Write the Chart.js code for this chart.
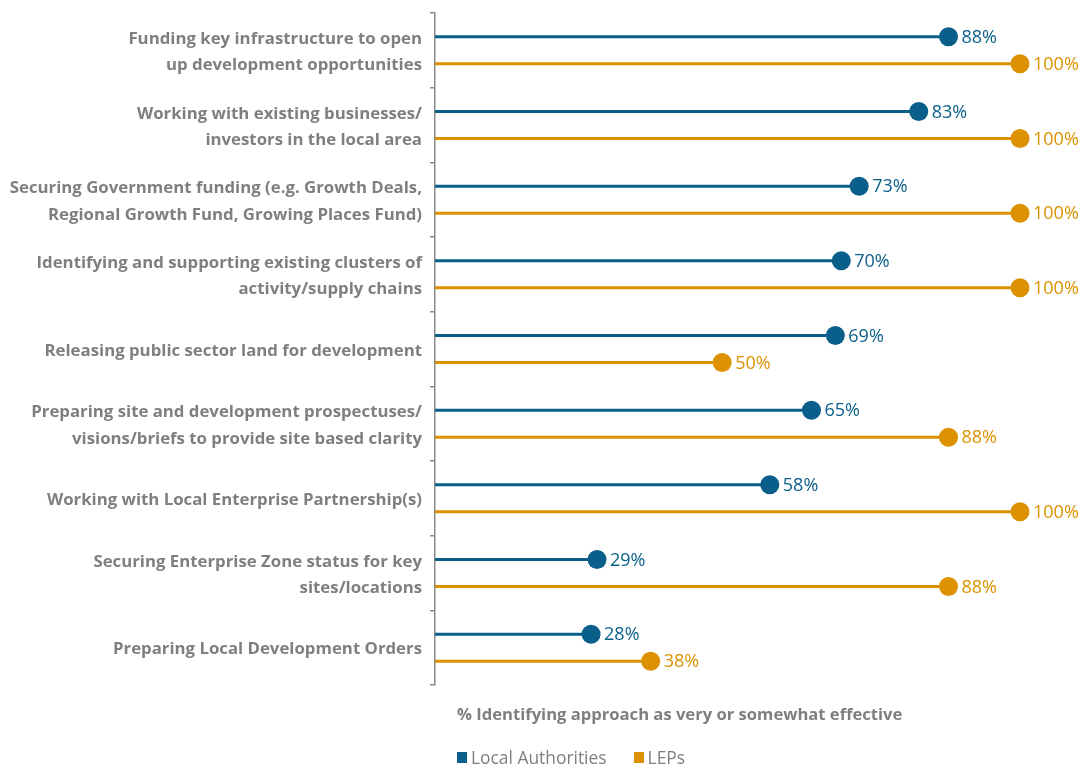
<!DOCTYPE html>
<html>
<head>
<meta charset="utf-8">
<script src="https://cdn.jsdelivr.net/npm/chart.js@4.4.1/dist/chart.umd.min.js"></script>
<style>
  html, body { margin: 0; padding: 0; background: #ffffff; }
  #wrap { position: relative; width: 1081px; height: 765px; overflow: hidden; }
  #chart { display: block; }
  #axisTitle {
    position: absolute; left: 457px; top: 704px;
    font: bold 16.6px "Open Sans", sans-serif; line-height: 20px; color: #7f7f7f; white-space: nowrap;
  }
  #legend {
    position: absolute; left: 457px; top: 747px;
    display: flex; align-items: center;
    font: 17.4px "Open Sans", sans-serif; line-height: 20px; color: #7f7f7f; white-space: nowrap;
  }
  #legend .item { display: flex; align-items: center; margin-right: 27px; }
  #legend .swatch { width: 10px; height: 11px; margin-right: 4px; }
</style>
</head>
<body>
<div id="wrap">
  <canvas id="chart" width="1081" height="765"></canvas>
  <div id="axisTitle">% Identifying approach as very or somewhat effective</div>
  <div id="legend"></div>
</div>
<script>
// Approaches (each entry is a wrapped, multi-line label)
const approaches = [
  ['Funding key infrastructure to open', 'up development opportunities'],
  ['Working with existing businesses/', 'investors in the local area'],
  ['Securing Government funding (e.g. Growth Deals,', 'Regional Growth Fund, Growing Places Fund)'],
  ['Identifying and supporting existing clusters of', 'activity/supply chains'],
  ['Releasing public sector land for development'],
  ['Preparing site and development prospectuses/', 'visions/briefs to provide site based clarity'],
  ['Working with Local Enterprise Partnership(s)'],
  ['Securing Enterprise Zone status for key', 'sites/locations'],
  ['Preparing Local Development Orders']
];

// % identifying the approach as very or somewhat effective
const localAuthorities = [88, 83, 73, 70, 69, 65, 58, 29, 28];
const leps = [100, 100, 100, 100, 50, 88, 100, 88, 38];

const seriesNames = ['Local Authorities', 'LEPs'];

// Styling
const BLUE = '#0a5f8a';
const ORANGE = '#dc9200';
const GREY = '#7f7f7f';
const AXIS_GREY = '#8a8a8a';
const FONT = '"Open Sans", sans-serif';
const AXIS_START = 1.8;   // value sitting on the category axis line
const AXIS_END = 100;

// Draws the round head and the value label at the end of each stem
const lollipopHeads = {
  id: 'lollipopHeads',
  afterDatasetsDraw(chart) {
    const ctx = chart.ctx;
    chart.data.datasets.forEach((ds, i) => {
      const meta = chart.getDatasetMeta(i);
      if (meta.hidden) return;
      meta.data.forEach((bar, j) => {
        const { x, y } = bar.getProps(['x', 'y'], true);
        ctx.save();
        ctx.beginPath();
        ctx.arc(x, y, 9.5, 0, Math.PI * 2);
        ctx.fillStyle = ds.backgroundColor;
        ctx.fill();
        ctx.font = '18px ' + FONT;
        ctx.textAlign = 'left';
        ctx.textBaseline = 'middle';
        ctx.fillText(ds.data[j] + '%', x + 13, y + 1);
        ctx.restore();
      });
    });
  }
};

const chart = new Chart(document.getElementById('chart'), {
  type: 'bar',
  data: {
    labels: approaches,
    datasets: [
      { label: seriesNames[0], data: localAuthorities, backgroundColor: BLUE },
      { label: seriesNames[1], data: leps, backgroundColor: ORANGE }
    ]
  },
  options: {
    indexAxis: 'y',
    responsive: false,
    animation: false,
    datasets: {
      bar: {
        base: AXIS_START,
        categoryPercentage: 0.723,
        barPercentage: 1,
        maxBarThickness: 3
      }
    },
    layout: { padding: { top: 13, right: 61, bottom: 80, left: 0 } },
    plugins: {
      legend: { display: false },
      tooltip: { enabled: false }
    },
    scales: {
      x: {
        type: 'linear',
        min: AXIS_START,
        max: AXIS_END,
        display: false
      },
      y: {
        type: 'category',
        grid: {
          offset: true,
          drawOnChartArea: false,
          drawTicks: true,
          tickLength: 5,
          color: AXIS_GREY,
          lineWidth: 1.5
        },
        border: { color: AXIS_GREY, width: 1.5 },
        ticks: {
          autoSkip: false,
          padding: 8,
          labelOffset: 2,
          color: GREY,
          font: { family: FONT, weight: 'bold', size: 16.8, lineHeight: 1.57 }
        },
        afterFit(scale) {
          scale.width = 435;
          scale.paddingTop = 0;
          scale.paddingBottom = 0;
        }
      }
    }
  },
  plugins: [lollipopHeads]
});

// Legend built from the chart's datasets
const legendEl = document.getElementById('legend');
chart.data.datasets.forEach(ds => {
  const item = document.createElement('div');
  item.className = 'item';
  const sw = document.createElement('span');
  sw.className = 'swatch';
  sw.style.background = ds.backgroundColor;
  const txt = document.createElement('span');
  txt.textContent = ds.label;
  item.appendChild(sw);
  item.appendChild(txt);
  legendEl.appendChild(item);
});
</script>
</body>
</html>
